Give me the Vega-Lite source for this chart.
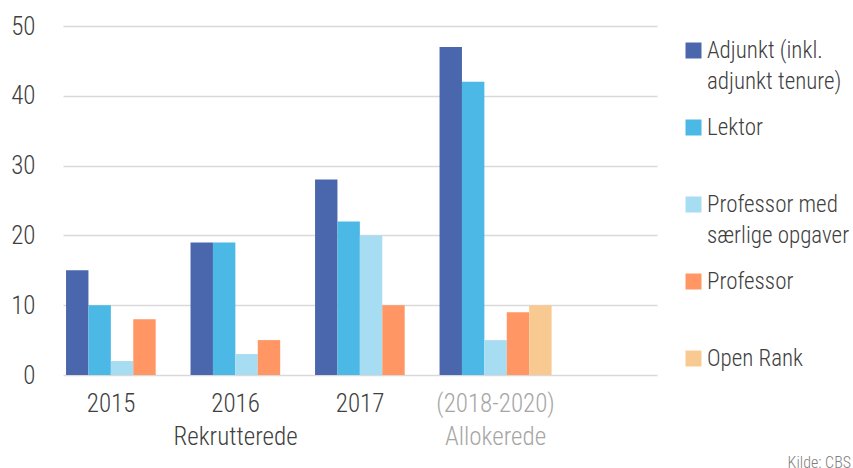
{
  "$schema": "https://vega.github.io/schema/vega-lite/v6.json",
  "width": 594,
  "height": 349,
  "autosize": "none",
  "padding": {"left": 63, "top": 26, "right": 196, "bottom": 93},
  "config": {
    "font": "Roboto Condensed, Liberation Sans Narrow, Roboto, sans-serif",
    "view": {"stroke": null}
  },
  "title": {
    "text": "Kilde: CBS",
    "orient": "bottom",
    "anchor": "end",
    "frame": "group",
    "fontSize": 16,
    "fontWeight": 300,
    "color": "#7F7F7F",
    "dx": 194,
    "offset": 6
  },
  "data": {
    "values": [
      {"gruppe": "2015", "stilling": "Adjunkt (inkl. adjunkt tenure)", "antal": 15},
      {"gruppe": "2015", "stilling": "Lektor", "antal": 10},
      {"gruppe": "2015", "stilling": "Professor med særlige opgaver", "antal": 2},
      {"gruppe": "2015", "stilling": "Professor", "antal": 8},
      {"gruppe": "2016", "stilling": "Adjunkt (inkl. adjunkt tenure)", "antal": 19},
      {"gruppe": "2016", "stilling": "Lektor", "antal": 19},
      {"gruppe": "2016", "stilling": "Professor med særlige opgaver", "antal": 3},
      {"gruppe": "2016", "stilling": "Professor", "antal": 5},
      {"gruppe": "2017", "stilling": "Adjunkt (inkl. adjunkt tenure)", "antal": 28},
      {"gruppe": "2017", "stilling": "Lektor", "antal": 22},
      {"gruppe": "2017", "stilling": "Professor med særlige opgaver", "antal": 20},
      {"gruppe": "2017", "stilling": "Professor", "antal": 10},
      {"gruppe": "(2018-2020)", "stilling": "Adjunkt (inkl. adjunkt tenure)", "antal": 47},
      {"gruppe": "(2018-2020)", "stilling": "Lektor", "antal": 42},
      {"gruppe": "(2018-2020)", "stilling": "Professor med særlige opgaver", "antal": 5},
      {"gruppe": "(2018-2020)", "stilling": "Professor", "antal": 9},
      {"gruppe": "(2018-2020)", "stilling": "Open Rank", "antal": 10}
    ]
  },
  "mark": {"type": "bar"},
  "encoding": {
    "x": {
      "field": "gruppe",
      "type": "nominal",
      "sort": ["2015", "2016", "2017", "(2018-2020)"],
      "title": null,
      "scale": {"paddingInner": 0.1, "paddingOuter": 0.4355, "align": 0.028},
      "axis": {
        "domain": false,
        "ticks": false,
        "grid": false,
        "labelAngle": 0,
        "labelFontSize": 25,
        "labelFontWeight": 300,
        "labelPadding": 16,
        "labelLineHeight": 33,
        "labelColor": {"expr": "datum.value === '(2018-2020)' ? '#A6A6A6' : '#404040'"},
        "labelOffset": {"expr": "datum.value === '(2018-2020)' ? 0 : -11"},
        "labelExpr": "datum.value === '2016' ? ['2016', 'Rekrutterede'] : datum.value === '(2018-2020)' ? ['(2018-2020)', 'Allokerede'] : datum.value"
      }
    },
    "xOffset": {
      "field": "stilling",
      "type": "nominal",
      "sort": ["Adjunkt (inkl. adjunkt tenure)", "Lektor", "Professor med særlige opgaver", "Professor", "Open Rank"],
      "scale": {"paddingInner": 0, "paddingOuter": 0, "align": 0}
    },
    "y": {
      "field": "antal",
      "type": "quantitative",
      "title": null,
      "scale": {"domain": [0, 50]},
      "axis": {
        "values": [0, 10, 20, 30, 40, 50],
        "domain": false,
        "ticks": false,
        "gridColor": "#D9D9D9",
        "gridWidth": 1.5,
        "labelFontSize": 25,
        "labelFontWeight": 300,
        "labelColor": "#404040",
        "labelPadding": 28
      }
    },
    "color": {
      "field": "stilling",
      "type": "nominal",
      "scale": {
        "domain": ["Adjunkt (inkl. adjunkt tenure)", "Lektor", "Professor med særlige opgaver", "Professor", "Open Rank"],
        "range": ["#4A66AC", "#4BB8E6", "#A7DDF3", "#FF9664", "#F8CA92"]
      },
      "legend": {
        "title": null,
        "orient": "none",
        "legendX": 619,
        "legendY": 13,
        "padding": 0,
        "symbolType": "square",
        "symbolSize": 256,
        "symbolStrokeWidth": 0,
        "symbolOpacity": 1,
        "labelFontSize": 23,
        "labelFontWeight": 300,
        "labelColor": "#404040",
        "labelOffset": 2,
        "labelLimit": 300,
        "labelBaseline": "top",
        "rowPadding": 22,
        "labelExpr": "datum.value === 'Adjunkt (inkl. adjunkt tenure)' ? ['Adjunkt (inkl.', 'adjunkt tenure)'] : datum.value === 'Professor med særlige opgaver' ? ['Professor med', 'særlige opgaver'] : [datum.value, '']",
        "encode": {"labels": {"update": {"dy": {"value": -11}, "lineHeight": {"value": 31}}}}
      }
    }
  }
}
